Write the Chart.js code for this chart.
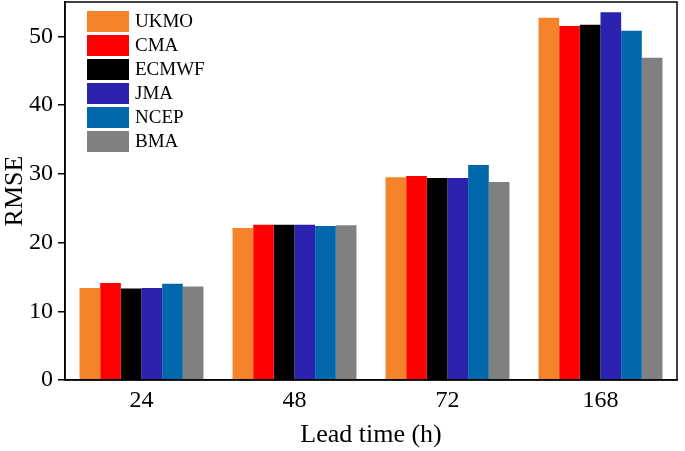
<!DOCTYPE html>
<html>
<head>
<meta charset="utf-8">
<script src="https://cdn.jsdelivr.net/npm/chart.js@4"></script>
<style>
  html, body { margin: 0; padding: 0; background: #fff; }
  #wrap { width: 685px; height: 451px; }
</style>
</head>
<body>
<div id="wrap"><canvas id="rmseChart"></canvas></div>
<script>
const leadTimes = ['24', '48', '72', '168'];
const models = ['UKMO', 'CMA', 'ECMWF', 'JMA', 'NCEP', 'BMA'];
const ukmo = [13.4, 22.1, 29.5, 52.7];
const cma = [14.1, 22.6, 29.7, 51.5];
const ecmwf = [13.3, 22.6, 29.4, 51.7];
const jma = [13.4, 22.6, 29.4, 53.5];
const ncep = [14.0, 22.4, 31.3, 50.8];
const bma = [13.6, 22.5, 28.8, 46.9];
const yTicks = [0, 10, 20, 30, 40, 50];

const colors = ['#f5832a', '#ff0000', '#000000', '#2b22b0', '#0068aa', '#808080'];
const series = [ukmo, cma, ecmwf, jma, ncep, bma];
const font = 'Liberation Serif';

// legend drawn inside the plot, top-left, plus the box frame
const framePlugin = {
    id: 'frameAndLegend',
    afterDraw(chart) {
        const { ctx, chartArea: a } = chart;
        ctx.save();
        ctx.strokeStyle = '#000';
        ctx.lineWidth = 1.5;
        ctx.strokeRect(a.left, a.top, a.right - a.left, a.bottom - a.top);

        ctx.font = '19px "' + font + '"';
        ctx.textBaseline = 'middle';
        chart.data.datasets.forEach((ds, i) => {
            const y = a.top + 9 + i * 24;
            ctx.fillStyle = ds.backgroundColor;
            ctx.fillRect(a.left + 22, y, 42, 21);
            ctx.fillStyle = '#000';
            ctx.fillText(ds.label, a.left + 70, y + 11);
        });
        ctx.restore();
    }
};

const ctx = document.getElementById('rmseChart').getContext('2d');
new Chart(ctx, {
    type: 'bar',
    data: {
        labels: leadTimes,
        datasets: models.map((m, i) => ({
            label: m,
            data: series[i],
            backgroundColor: colors[i],
            borderWidth: 0,
            categoryPercentage: 0.81,
            barPercentage: 1.0
        }))
    },
    options: {
        responsive: true,
        maintainAspectRatio: false,
        animation: false,
        layout: { padding: { top: 2, right: 8, left: 0, bottom: 0 } },
        plugins: {
            legend: { display: false },
            tooltip: { enabled: false }
        },
        scales: {
            x: {
                grid: { display: false, drawTicks: false },
                border: { display: true, color: '#000', width: 1.5 },
                ticks: { color: '#000', font: { family: font, size: 24 }, padding: 6 },
                title: {
                    display: true,
                    text: 'Lead time (h)',
                    color: '#000',
                    font: { family: font, size: 26 },
                    padding: { top: -1, bottom: 0 }
                }
            },
            y: {
                min: 0,
                max: 55,
                afterBuildTicks(axis) {
                    axis.ticks = yTicks.map(v => ({ value: v }));
                },
                afterFit(axis) {
                    // the top tick is not at the edge, so no half-label padding
                    axis.paddingTop = 0;
                    axis.paddingBottom = 0;
                    axis.width = 65;
                },
                grid: {
                    display: true,
                    drawOnChartArea: false,
                    drawTicks: true,
                    tickLength: 7,
                    color: '#000',
                    lineWidth: 1.5
                },
                border: { display: true, color: '#000', width: 1.5 },
                ticks: { color: '#000', font: { family: font, size: 24 }, padding: 5 },
                title: {
                    display: true,
                    text: 'RMSE',
                    color: '#000',
                    font: { family: font, size: 26 },
                    padding: { top: 0, bottom: 0 }
                }
            }
        }
    },
    plugins: [framePlugin]
});
</script>
</body>
</html>
